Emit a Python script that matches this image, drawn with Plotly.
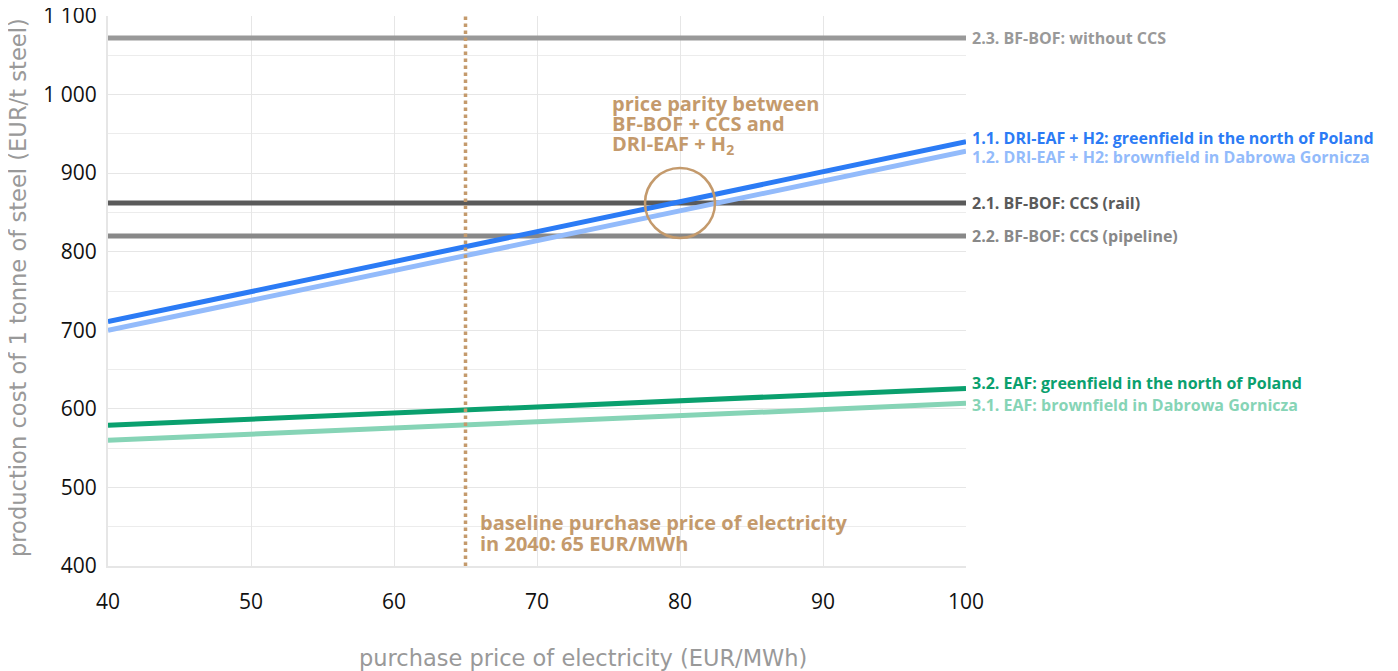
import plotly.graph_objects as go

x_price = [40, 100]
dri_green = [711, 940]
dri_brown = [700, 928]
bof_rail = [862, 862]
bof_pipe = [820, 820]
bof_none = [1072, 1072]
eaf_green = [579, 626]
eaf_brown = [560, 607]

series = [
    ("2.3. BF-BOF: without CCS", bof_none, "#999999"),
    ("2.1. BF-BOF: CCS (rail)", bof_rail, "#5a5a5a"),
    ("2.2. BF-BOF: CCS (pipeline)", bof_pipe, "#888888"),
    ("1.2. DRI-EAF + H2: brownfield in Dabrowa Gornicza", dri_brown, "#93bbfb"),
    ("1.1. DRI-EAF + H2: greenfield in the north of Poland", dri_green, "#2b7bf5"),
    ("3.1. EAF: brownfield in Dabrowa Gornicza", eaf_brown, "#86d4b6"),
    ("3.2. EAF: greenfield in the north of Poland", eaf_green, "#0aa06e"),
]

baseline_price = 65
parity_price = 80
parity_lines = ["price parity between", "BF-BOF + CCS and", "DRI-EAF + H<sub>2</sub>"]
baseline_lines = ["baseline purchase price of electricity", "in 2040: 65 EUR/MWh"]
x_title = "purchase price of electricity (EUR/MWh)"
y_title = "production cost of 1 tonne of steel (EUR/t steel)"

tan = "#c49a6c"
font_family = "'Open Sans', Roboto, sans-serif"
title_family = "'DejaVu Sans', 'Open Sans', sans-serif"

fig = go.Figure()
for name, vals, col in series:
    fig.add_trace(go.Scatter(x=x_price, y=vals, mode="lines", name=name,
                             line=dict(color=col, width=5), showlegend=False,
                             hoverinfo="skip"))

label_shift = {
    "1.1. DRI-EAF + H2: greenfield in the north of Poland": 4,
    "1.2. DRI-EAF + H2: brownfield in Dabrowa Gornicza": -6,
    "3.2. EAF: greenfield in the north of Poland": 5,
    "3.1. EAF: brownfield in Dabrowa Gornicza": -2,
}
for name, vals, col in series:
    fig.add_annotation(x=x_price[-1], y=vals[-1], xref="x", yref="y",
                       text="<b>" + name + "</b>", showarrow=False,
                       xanchor="left", yanchor="middle", xshift=4,
                       yshift=label_shift.get(name, 0),
                       font=dict(size=16, color=col, family=font_family))

fig.add_vline(x=baseline_price, line=dict(color=tan, width=3.5, dash="dot"))

fig.add_shape(type="circle", xref="x", yref="y", xsizemode="pixel", ysizemode="pixel",
              xanchor=parity_price, yanchor=bof_rail[0],
              x0=-35, x1=35, y0=-35, y1=35, line=dict(color=tan, width=2.5))

for i, line in enumerate(parity_lines):
    fig.add_annotation(x=75.1, y=989, xref="x", yref="y", yshift=-20.5 * i,
                       text="<b>" + line + "</b>", showarrow=False,
                       xanchor="left", yanchor="middle", align="left",
                       font=dict(size=20, color=tan, family=font_family))
for i, line in enumerate(baseline_lines):
    fig.add_annotation(x=65.9, y=456, xref="x", yref="y", yshift=-21 * i,
                       text="<b>" + line + "</b>", showarrow=False,
                       xanchor="left", yanchor="middle", align="left",
                       font=dict(size=20, color=tan, family=font_family))

fig.add_annotation(x=0.5536, y=0, xref="paper", yref="paper", yshift=-92,
                   text=x_title, showarrow=False, xanchor="center", yanchor="middle",
                   font=dict(size=22.5, color="#999999", family=title_family))
fig.add_annotation(x=-0.105, y=0.507, xref="paper", yref="paper", textangle=-90,
                   text=y_title, showarrow=False, xanchor="center", yanchor="middle",
                   font=dict(size=22.6, color="#999999", family=title_family))

# page has an 8px body margin, so margins are offset by 8px
fig.update_layout(
    width=1398, height=671,
    margin=dict(l=100, r=440, t=8, b=113),
    plot_bgcolor="white", paper_bgcolor="white",
    separators=". ",
    font=dict(family=font_family),
)
fig.update_xaxes(range=[40, 100], dtick=10, tick0=40, automargin=False,
                 showgrid=True, gridcolor="#e6e6e6", gridwidth=1,
                 showline=True, linecolor="#e6e6e6", linewidth=2,
                 zeroline=False, ticks="", ticklabelstandoff=16,
                 ticklabeloverflow="allow",
                 tickfont=dict(size=21, color="#111111"))
fig.update_yaxes(range=[400, 1100], dtick=100, tickformat=",d", automargin=False,
                 showgrid=True, gridcolor="#e6e6e6", gridwidth=1,
                 minor=dict(dtick=50, showgrid=True, gridcolor="#ececec", gridwidth=1),
                 showline=True, linecolor="#e6e6e6", linewidth=2,
                 zeroline=False, ticks="", ticklabelstandoff=5,
                 ticklabeloverflow="allow",
                 tickfont=dict(size=21, color="#111111"))

fig.write_html("out.html")
